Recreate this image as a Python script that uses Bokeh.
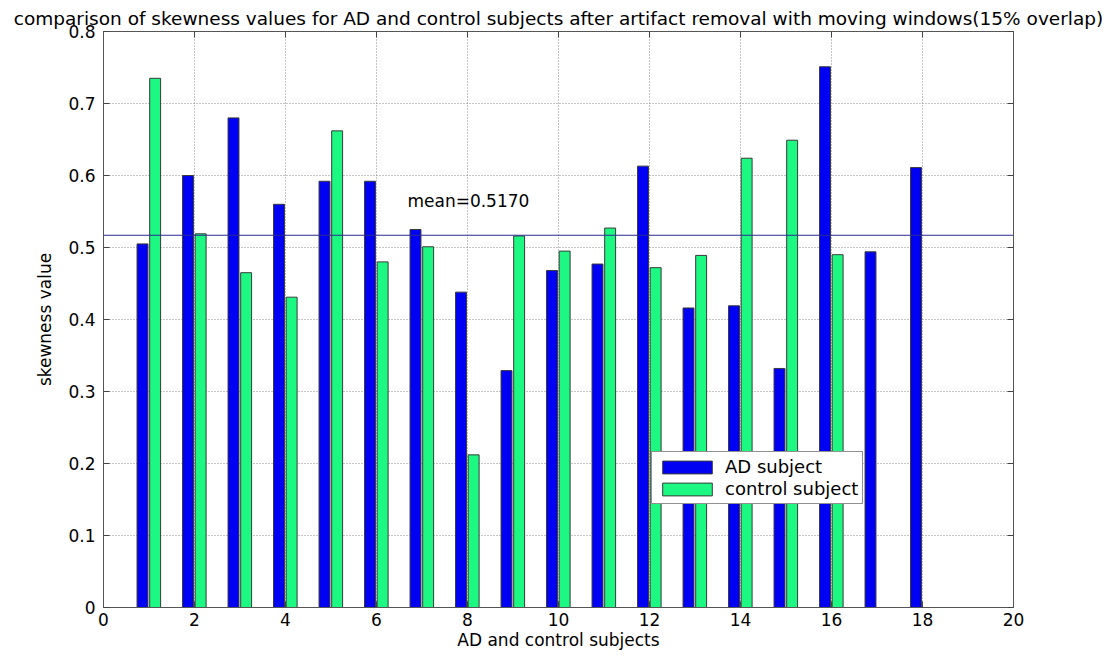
from bokeh.plotting import figure
from bokeh.models import (ColumnDataSource, FixedTicker, LinearAxis, Span, Label,
                          Legend, LegendItem, Range1d)
from bokeh.transform import dodge
from bokeh.embed import file_html
from bokeh.resources import INLINE

# Skewness per subject
ad_subjects = list(range(1, 19))
ad_skewness = [0.505, 0.600, 0.680, 0.560, 0.592, 0.592, 0.525, 0.438, 0.329,
               0.468, 0.477, 0.613, 0.416, 0.419, 0.332, 0.751, 0.494, 0.611]
control_subjects = list(range(1, 17))
control_skewness = [0.735, 0.519, 0.465, 0.431, 0.662, 0.480, 0.501, 0.212,
                    0.516, 0.495, 0.527, 0.472, 0.489, 0.624, 0.649, 0.490]
mean_value = 0.5170

x_ticks = [0, 2, 4, 6, 8, 10, 12, 14, 16, 18, 20]
y_ticks = [0, 0.1, 0.2, 0.3, 0.4, 0.5, 0.6, 0.7, 0.8]
y_tick_labels = ["0", "0.1", "0.2", "0.3", "0.4", "0.5", "0.6", "0.7", "0.8"]

FONT = "DejaVu Sans"
FS = "17px"
AD_COLOR = "#0000f2"
CTRL_COLOR = "#1cf882"

ad_src = ColumnDataSource(dict(x=ad_subjects, y=ad_skewness))
ctrl_src = ColumnDataSource(dict(x=control_subjects, y=control_skewness))

p = figure(width=1116, height=657, x_range=Range1d(0, 20), y_range=Range1d(0, 0.8),
           output_backend="svg", toolbar_location=None,
           min_border_left=103, min_border_right=103, min_border_top=31,
           min_border_bottom=50,
           title="comparison of skewness values for AD and control subjects after "
                 "artifact removal with moving windows(15% overlap)")
p.background_fill_color = "white"
p.border_fill_color = "white"
p.outline_line_color = "#666666"
p.outline_line_width = 1

p.title.text_font = FONT
p.title.text_font_size = "18.5px"
p.title.text_font_style = "normal"
p.title.align = "center"
p.title.offset = -5
p.title.text_color = "black"
p.title.standoff = 6

# grid
p.xgrid.ticker = FixedTicker(ticks=x_ticks)
p.ygrid.ticker = FixedTicker(ticks=y_ticks)
for g in (p.xgrid, p.ygrid):
    g.grid_line_color = "#8a8a8a"
    g.grid_line_dash = "1 2"
    g.grid_line_width = 1

# bars
ad_r = p.vbar(x=dodge("x", -0.143, range=p.x_range), top="y", width=0.24, source=ad_src,
              fill_color=AD_COLOR, line_color="#3a3a3a", line_width=1)
ctrl_r = p.vbar(x=dodge("x", 0.135, range=p.x_range), top="y", width=0.24, source=ctrl_src,
                fill_color=CTRL_COLOR, line_color="#3a3a3a", line_width=1)

# mean line and its label
p.add_layout(Span(location=mean_value, dimension="width", line_color="#2b2b90",
                  line_width=1))
p.add_layout(Label(x=6.68, y=0.565, text=f"mean={mean_value:.4f}", text_font=FONT,
                   text_font_size=FS, text_baseline="middle", text_color="black"))


def style_axis(ax, ticks, labels=True):
    ax.ticker = FixedTicker(ticks=ticks)
    ax.axis_line_color = "#555555"
    ax.major_tick_line_color = "#444444"
    ax.major_tick_in = 6
    ax.major_tick_out = 0
    ax.minor_tick_line_color = None
    ax.major_label_text_font = FONT
    ax.major_label_text_font_size = FS
    ax.major_label_text_color = "black"
    ax.axis_label_text_font = FONT
    ax.axis_label_text_font_size = FS
    ax.axis_label_text_font_style = "normal"
    ax.axis_label_text_color = "black"
    if not labels:
        ax.major_label_text_color = None
        ax.major_label_text_font_size = "1px"
        ax.major_label_standoff = 0


xa = p.xaxis[0]
ya = p.yaxis[0]
style_axis(xa, x_ticks)
style_axis(ya, y_ticks)
xa.axis_label = "AD and control subjects"
xa.major_label_standoff = 5
xa.axis_label_standoff = 1
ya.axis_label = "skewness value"
ya.major_label_standoff = 8
ya.axis_label_standoff = 10
ya.major_label_overrides = {t: l for t, l in zip(y_ticks, y_tick_labels)}

top_ax = LinearAxis()
right_ax = LinearAxis()
p.add_layout(top_ax, "above")
p.add_layout(right_ax, "right")
style_axis(top_ax, x_ticks, labels=False)
style_axis(right_ax, y_ticks, labels=False)

legend = Legend(items=[LegendItem(label="AD subject", renderers=[ad_r]),
                       LegendItem(label="control subject", renderers=[ctrl_r])],
                location=(548, 103))
legend.label_text_font = FONT
legend.label_text_font_size = "18px"
legend.label_text_color = "black"
legend.glyph_width = 62
legend.glyph_height = 16
legend.label_height = 16
legend.label_standoff = 7
legend.spacing = 1
legend.padding = 4
legend.margin = 0
legend.border_line_color = "#222222"
legend.border_line_width = 1
legend.background_fill_color = "white"
legend.background_fill_alpha = 1
p.add_layout(legend, "center")

open("out.html", "w").write(file_html(p, INLINE))
